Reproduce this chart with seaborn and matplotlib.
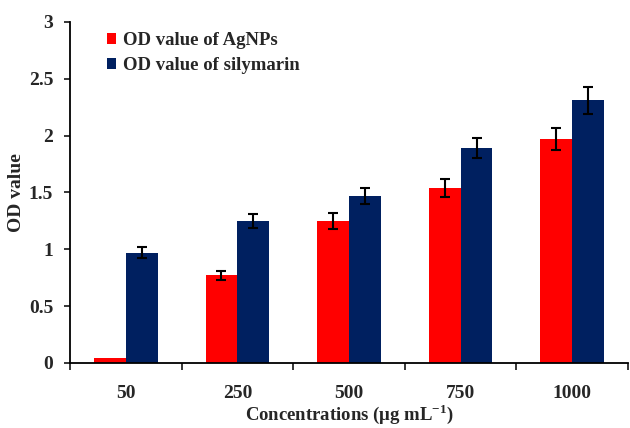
import matplotlib
matplotlib.use("Agg")
import matplotlib.pyplot as plt
import seaborn as sns
import pandas as pd
import numpy as np

concentrations = ["50", "250", "500", "750", "1000"]
agnps = [0.045, 0.77, 1.25, 1.54, 1.97]
agnps_err = [0.0, 0.04, 0.07, 0.08, 0.10]
silymarin = [0.97, 1.25, 1.465, 1.89, 2.31]
silymarin_err = [0.05, 0.06, 0.07, 0.09, 0.12]
series_names = ["OD value of AgNPs", "OD value of silymarin"]
colors = ["#FF0000", "#002060"]

sns.set_style("white")
plt.rcParams['font.family'] = ['Liberation Serif', 'DejaVu Serif']
plt.rcParams['mathtext.fontset'] = 'custom'
plt.rcParams['mathtext.rm'] = 'Liberation Serif'
plt.rcParams['mathtext.bf'] = 'Liberation Serif:bold'

df = pd.DataFrame({
    "conc": concentrations * 2,
    "value": agnps + silymarin,
    "series": [series_names[0]] * 5 + [series_names[1]] * 5,
})

fig = plt.figure(figsize=(6.30, 4.28), dpi=100)
ax = fig.add_axes([0.111, 0.152, 0.886, 0.797])
sns.barplot(data=df, x="conc", y="value", hue="series", palette=colors,
            width=0.57, ax=ax, errorbar=None, saturation=1,
            edgecolor="none", linewidth=0)

bar_containers = list(ax.containers)
errs = [agnps_err, silymarin_err]
vals = [agnps, silymarin]
for ci, cont in enumerate(bar_containers):
    xs = [p.get_x() + p.get_width() / 2 for p in cont.patches]
    e = np.array(errs[ci])
    mask = e > 0
    ax.errorbar(np.array(xs)[mask], np.array(vals[ci])[mask], yerr=e[mask],
                fmt="none", ecolor="black", elinewidth=1.5, capsize=3.5, capthick=1.5)

ax.set_xlim(-0.5, 4.5)
ax.set_ylim(0, 3)
ax.set_yticks([0, 0.5, 1, 1.5, 2, 2.5, 3])
ax.set_yticklabels(["0", "0.5", "1", "1.5", "2", "2.5", "3"])
ax.set_xticks(np.arange(5))
ax.set_xticklabels(concentrations)
ax.set_xticks(np.arange(-0.5, 5.0, 1.0), minor=True)
ax.tick_params(axis="x", which="major", length=0, pad=16, labelsize=14)
ax.tick_params(axis="x", which="minor", length=5, width=1.3, direction="out", bottom=True)
ax.tick_params(axis="y", length=4, width=1.3, direction="out", left=True, labelsize=14, pad=8)
for lbl in ax.get_xticklabels() + ax.get_yticklabels():
    lbl.set_fontweight("bold")

for s in ["top", "right"]:
    ax.spines[s].set_visible(False)
for s in ["left", "bottom"]:
    ax.spines[s].set_color("black")
    ax.spines[s].set_linewidth(1.3)

ax.set_xlabel(r"Concentrations (μg mL$^{\mathbf{-1}}$)", fontsize=13.5, fontweight="bold", labelpad=0)
ax.set_ylabel("OD value", fontsize=14, fontweight="bold", labelpad=3)

leg = ax.legend(loc="upper left", bbox_to_anchor=(0.036, 1.02), frameon=False,
                prop={"family": "Liberation Serif", "weight": "bold", "size": 13.5},
                handlelength=0.5, handleheight=0.5, handletextpad=0.35, labelspacing=0.45)

fig.savefig("out.png", dpi=100)
